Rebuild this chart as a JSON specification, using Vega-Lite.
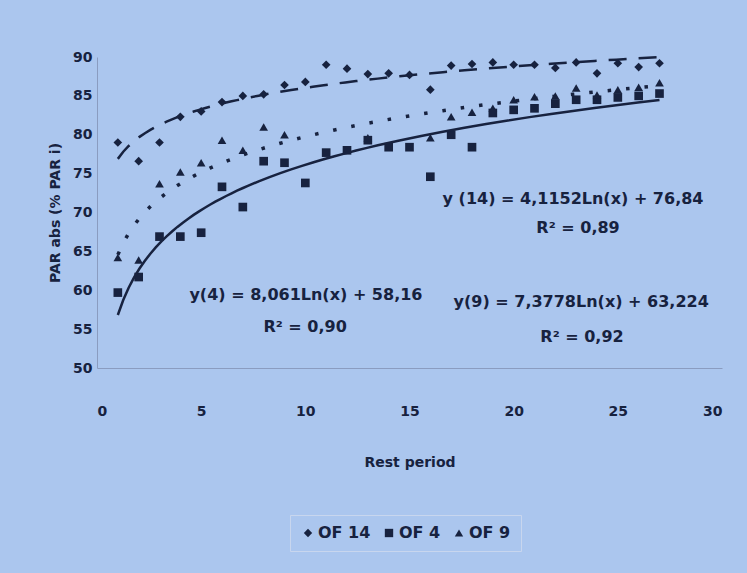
{
  "$schema": "https://vega.github.io/schema/vega-lite/v6.json",
  "width": 625,
  "height": 311,
  "autosize": {"type": "none"},
  "padding": {"left": 97, "top": 57, "right": 25, "bottom": 205},
  "background": "#abc6ee",
  "resolve": {"axis": {"x": "independent", "y": "independent"}},
  "config": {
    "view": {"stroke": null},
    "font": "DejaVu Sans",
    "axis": {
      "grid": false, "ticks": false, "labelOverlap": false, "domainColor": "#8a9cc0",
      "labelFont": "DejaVu Sans", "labelFontWeight": "bold", "labelFontSize": 14, "labelColor": "#17223f",
      "titleFont": "DejaVu Sans", "titleFontWeight": "bold", "titleFontSize": 14, "titleColor": "#17223f"
    },
    "axisX": {"labelPadding": 36, "titlePadding": 37},
    "axisY": {"labelPadding": 5, "titlePadding": 10}
  },
  "datasets": {
    "pts": [
      {"series": "OF 14", "x": 1, "y": 79}, {"series": "OF 14", "x": 2, "y": 76.6}, {"series": "OF 14", "x": 3, "y": 79},
      {"series": "OF 14", "x": 4, "y": 82.3}, {"series": "OF 14", "x": 5, "y": 83}, {"series": "OF 14", "x": 6, "y": 84.2},
      {"series": "OF 14", "x": 7, "y": 85}, {"series": "OF 14", "x": 8, "y": 85.2}, {"series": "OF 14", "x": 9, "y": 86.4},
      {"series": "OF 14", "x": 10, "y": 86.8}, {"series": "OF 14", "x": 11, "y": 89}, {"series": "OF 14", "x": 12, "y": 88.5},
      {"series": "OF 14", "x": 13, "y": 87.8}, {"series": "OF 14", "x": 14, "y": 87.9}, {"series": "OF 14", "x": 15, "y": 87.7},
      {"series": "OF 14", "x": 16, "y": 85.8}, {"series": "OF 14", "x": 17, "y": 88.9}, {"series": "OF 14", "x": 18, "y": 89.1},
      {"series": "OF 14", "x": 19, "y": 89.3}, {"series": "OF 14", "x": 20, "y": 89}, {"series": "OF 14", "x": 21, "y": 89},
      {"series": "OF 14", "x": 22, "y": 88.6}, {"series": "OF 14", "x": 23, "y": 89.3}, {"series": "OF 14", "x": 24, "y": 87.9},
      {"series": "OF 14", "x": 25, "y": 89.2}, {"series": "OF 14", "x": 26, "y": 88.7}, {"series": "OF 14", "x": 27, "y": 89.2},
      {"series": "OF 4", "x": 1, "y": 59.7}, {"series": "OF 4", "x": 2, "y": 61.7}, {"series": "OF 4", "x": 3, "y": 66.9},
      {"series": "OF 4", "x": 4, "y": 66.9}, {"series": "OF 4", "x": 5, "y": 67.4}, {"series": "OF 4", "x": 6, "y": 73.3},
      {"series": "OF 4", "x": 7, "y": 70.7}, {"series": "OF 4", "x": 8, "y": 76.6}, {"series": "OF 4", "x": 9, "y": 76.4},
      {"series": "OF 4", "x": 10, "y": 73.8}, {"series": "OF 4", "x": 11, "y": 77.7}, {"series": "OF 4", "x": 12, "y": 78},
      {"series": "OF 4", "x": 13, "y": 79.3}, {"series": "OF 4", "x": 14, "y": 78.4}, {"series": "OF 4", "x": 15, "y": 78.4},
      {"series": "OF 4", "x": 16, "y": 74.6}, {"series": "OF 4", "x": 17, "y": 80}, {"series": "OF 4", "x": 18, "y": 78.4},
      {"series": "OF 4", "x": 19, "y": 82.8}, {"series": "OF 4", "x": 20, "y": 83.2}, {"series": "OF 4", "x": 21, "y": 83.4},
      {"series": "OF 4", "x": 22, "y": 84}, {"series": "OF 4", "x": 23, "y": 84.5}, {"series": "OF 4", "x": 24, "y": 84.5},
      {"series": "OF 4", "x": 25, "y": 84.8}, {"series": "OF 4", "x": 26, "y": 85}, {"series": "OF 4", "x": 27, "y": 85.3},
      {"series": "OF 9", "x": 1, "y": 64.2}, {"series": "OF 9", "x": 2, "y": 63.9}, {"series": "OF 9", "x": 3, "y": 73.7},
      {"series": "OF 9", "x": 4, "y": 75.2}, {"series": "OF 9", "x": 5, "y": 76.4}, {"series": "OF 9", "x": 6, "y": 79.3},
      {"series": "OF 9", "x": 7, "y": 78}, {"series": "OF 9", "x": 8, "y": 81}, {"series": "OF 9", "x": 9, "y": 80},
      {"series": "OF 9", "x": 13, "y": 79.6}, {"series": "OF 9", "x": 16, "y": 79.6}, {"series": "OF 9", "x": 17, "y": 82.3},
      {"series": "OF 9", "x": 18, "y": 82.9}, {"series": "OF 9", "x": 19, "y": 83.4}, {"series": "OF 9", "x": 20, "y": 84.5},
      {"series": "OF 9", "x": 21, "y": 84.9}, {"series": "OF 9", "x": 22, "y": 85}, {"series": "OF 9", "x": 23, "y": 86},
      {"series": "OF 9", "x": 24, "y": 85.1}, {"series": "OF 9", "x": 25, "y": 85.8}, {"series": "OF 9", "x": 26, "y": 86.1},
      {"series": "OF 9", "x": 27, "y": 86.7}
    ]
  },
  "layer": [
    {
      "data": {"name": "pts"},
      "mark": {"type": "point", "filled": true, "opacity": 1},
      "encoding": {
        "x": {"field": "x", "type": "quantitative", "scale": {"domain": [0, 30], "nice": false},
              "axis": {"title": "Rest period", "values": [0, 5, 10, 15, 20, 25, 30]}},
        "y": {"field": "y", "type": "quantitative", "scale": {"domain": [50, 90], "nice": false},
              "axis": {"title": "PAR abs (% PAR i)", "values": [50, 55, 60, 65, 70, 75, 80, 85, 90]}},
        "shape": {
          "field": "series", "type": "nominal",
          "scale": {"domain": ["OF 14", "OF 4", "OF 9"], "range": ["diamond", "square", "triangle-up"]},
          "legend": {
            "title": null, "orient": "none", "direction": "horizontal", "legendX": 193, "legendY": 458,
            "strokeColor": "#c8d6ee", "fillColor": "#abc6ee", "padding": 10, "columnPadding": 10,
            "symbolSize": 70, "symbolFillColor": "#17223f", "symbolStrokeColor": "#17223f", "labelOffset": 2,
            "labelFont": "DejaVu Sans", "labelFontWeight": "bold", "labelFontSize": 16, "labelColor": "#17223f"
          }
        },
        "color": {"value": "#17223f"},
        "size": {"value": 75}
      }
    },
    {
      "data": {"name": "pts"},
      "transform": [{"filter": "datum.series === 'OF 4'"}, {"regression": "y", "on": "x", "method": "log", "extent": [1, 27]}],
      "mark": {"type": "line", "color": "#17223f", "strokeWidth": 2.5},
      "encoding": {
        "x": {"field": "x", "type": "quantitative", "axis": null},
        "y": {"field": "y", "type": "quantitative", "axis": null}
      }
    },
    {
      "data": {"name": "pts"},
      "transform": [{"filter": "datum.series === 'OF 9'"}, {"regression": "y", "on": "x", "method": "log", "extent": [1, 27]}],
      "mark": {"type": "line", "color": "#17223f", "strokeWidth": 3.5, "strokeDash": [3.5, 15]},
      "encoding": {
        "x": {"field": "x", "type": "quantitative", "axis": null},
        "y": {"field": "y", "type": "quantitative", "axis": null}
      }
    },
    {
      "data": {"name": "pts"},
      "transform": [{"filter": "datum.series === 'OF 14'"}, {"regression": "y", "on": "x", "method": "log", "extent": [1, 27]}],
      "mark": {"type": "line", "color": "#17223f", "strokeWidth": 2.5, "strokeDash": [18, 12]},
      "encoding": {
        "x": {"field": "x", "type": "quantitative", "axis": null},
        "y": {"field": "y", "type": "quantitative", "axis": null}
      }
    },
    {
      "data": {"values": [{"label": "y (14) = 4,1152Ln(x) + 76,84"}]},
      "mark": {"type": "text", "font": "DejaVu Sans", "fontWeight": "bold", "fontSize": 16, "color": "#17223f"},
      "encoding": {"x": {"datum": 22.85, "type": "quantitative", "axis": null}, "y": {"datum": 71.75, "type": "quantitative", "axis": null}, "text": {"field": "label"}}
    },
    {
      "data": {"values": [{"label": "R² = 0,89"}]},
      "mark": {"type": "text", "font": "DejaVu Sans", "fontWeight": "bold", "fontSize": 16, "color": "#17223f"},
      "encoding": {"x": {"datum": 23.09, "type": "quantitative", "axis": null}, "y": {"datum": 68.0, "type": "quantitative", "axis": null}, "text": {"field": "label"}}
    },
    {
      "data": {"values": [{"label": "y(4) = 8,061Ln(x) + 58,16"}]},
      "mark": {"type": "text", "font": "DejaVu Sans", "fontWeight": "bold", "fontSize": 16, "color": "#17223f"},
      "encoding": {"x": {"datum": 10.03, "type": "quantitative", "axis": null}, "y": {"datum": 59.4, "type": "quantitative", "axis": null}, "text": {"field": "label"}}
    },
    {
      "data": {"values": [{"label": "R² = 0,90"}]},
      "mark": {"type": "text", "font": "DejaVu Sans", "fontWeight": "bold", "fontSize": 16, "color": "#17223f"},
      "encoding": {"x": {"datum": 9.99, "type": "quantitative", "axis": null}, "y": {"datum": 55.3, "type": "quantitative", "axis": null}, "text": {"field": "label"}}
    },
    {
      "data": {"values": [{"label": "y(9) = 7,3778Ln(x) + 63,224"}]},
      "mark": {"type": "text", "font": "DejaVu Sans", "fontWeight": "bold", "fontSize": 16, "color": "#17223f"},
      "encoding": {"x": {"datum": 23.24, "type": "quantitative", "axis": null}, "y": {"datum": 58.5, "type": "quantitative", "axis": null}, "text": {"field": "label"}}
    },
    {
      "data": {"values": [{"label": "R² = 0,92"}]},
      "mark": {"type": "text", "font": "DejaVu Sans", "fontWeight": "bold", "fontSize": 16, "color": "#17223f"},
      "encoding": {"x": {"datum": 23.28, "type": "quantitative", "axis": null}, "y": {"datum": 54.0, "type": "quantitative", "axis": null}, "text": {"field": "label"}}
    }
  ]
}
